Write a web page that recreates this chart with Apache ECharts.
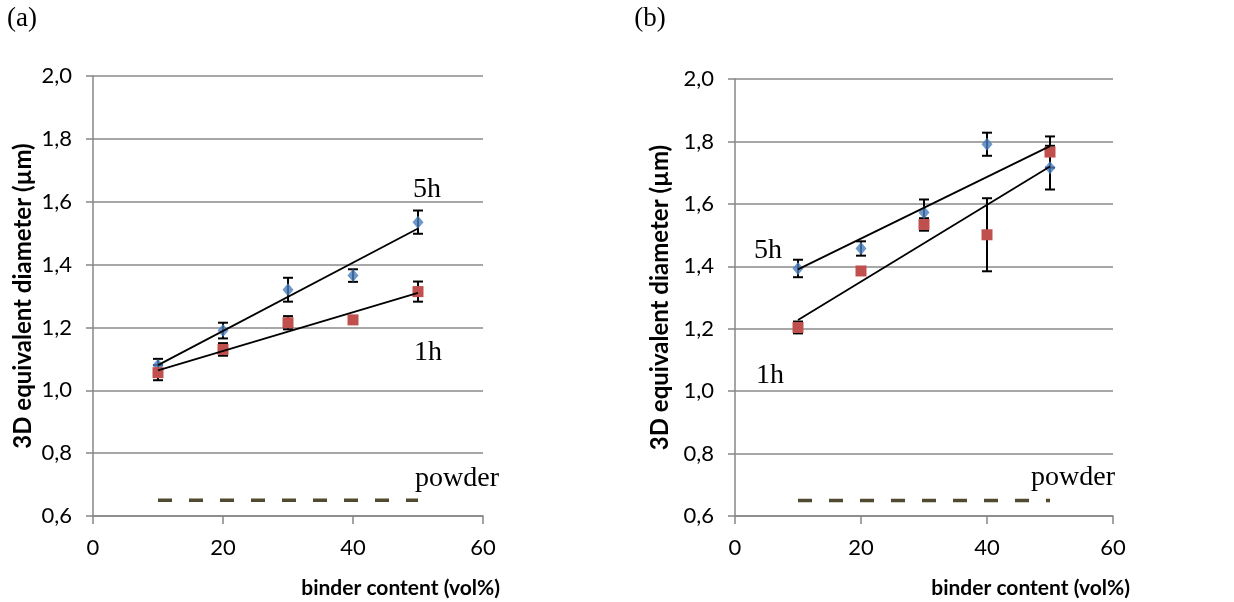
<!DOCTYPE html>
<html>
<head>
<meta charset="utf-8">
<script src="https://cdn.jsdelivr.net/npm/echarts@6/dist/echarts.min.js"></script>
<style>
  html, body { margin: 0; padding: 0; background: #fff; }
  #main { width: 1234px; height: 602px; }
</style>
</head>
<body>
<div id="main"></div>
<script>
// binder content (vol%)
var binder = [10, 20, 30, 40, 50];

// panel (a)
var a5h = [1.08, 1.19, 1.32, 1.365, 1.535];
var a5hErr = [0.02, 0.025, 0.038, 0.02, 0.037];
var a1h = [1.056, 1.13, 1.215, 1.224, 1.314];
var a1hErr = [0.024, 0.02, 0.021, 0.012, 0.032];
var aTrend5h = [1.08, 1.515];   // trend line at x = 10 and 50
var aTrend1h = [1.063, 1.31];

// panel (b)
var b5h = [1.393, 1.457, 1.572, 1.791, 1.716];
var b5hErr = [0.028, 0.023, 0.042, 0.037, 0.07];
var b1h = [1.204, 1.385, 1.534, 1.501, 1.766];
var b1hErr = [0.019, 0.008, 0.02, 0.117, 0.05];
var bTrend5h = [1.39, 1.785];
var bTrend1h = [1.228, 1.72];

var trendX = [10, 50];
var powder = 0.65;

var yTicks = ['0,6', '0,8', '1,0', '1,2', '1,4', '1,6', '1,8', '2,0'];

var chart = echarts.init(document.getElementById('main'));

var labelFont = 'Lato, "Open Sans", sans-serif';
var serif = '"Liberation Serif", "DejaVu Serif", serif';

function pairs(xs, ys) {
    var out = [];
    for (var i = 0; i < xs.length; i++) out.push([xs[i], ys[i]]);
    return out;
}

function errData(ys, errs) {
    var out = [];
    for (var i = 0; i < binder.length; i++) {
        out.push([binder[i], ys[i] - errs[i], ys[i] + errs[i]]);
    }
    return out;
}

function renderErr(params, api) {
    var x = api.value(0);
    var lo = api.coord([x, api.value(1)]);
    var hi = api.coord([x, api.value(2)]);
    var w = 5;
    var st = { stroke: '#000', lineWidth: 2 };
    return {
        type: 'group',
        children: [
            { type: 'line', shape: { x1: hi[0], y1: hi[1], x2: lo[0], y2: lo[1] }, style: st },
            { type: 'line', shape: { x1: hi[0] - w, y1: hi[1], x2: hi[0] + w, y2: hi[1] }, style: st },
            { type: 'line', shape: { x1: lo[0] - w, y1: lo[1], x2: lo[0] + w, y2: lo[1] }, style: st }
        ]
    };
}

function xAxis(idx) {
    return {
        gridIndex: idx,
        type: 'value',
        min: 0,
        max: 60,
        interval: 20,
        name: 'binder content (vol%)',
        nameLocation: 'end',
        nameGap: 17,
        nameTextStyle: {
            fontFamily: labelFont, fontWeight: 'bold', fontSize: 21, color: '#000',
            align: 'right', verticalAlign: 'top', padding: [62, 0, 0, 0]
        },
        axisLine: { lineStyle: { color: '#878787', width: 1.5 } },
        axisTick: { show: true, length: 8, lineStyle: { color: '#878787', width: 1.5 } },
        axisLabel: { fontFamily: labelFont, fontSize: 22, color: '#000', margin: 21 },
        splitLine: { show: false }
    };
}

function yAxis(idx, gap) {
    return {
        gridIndex: idx,
        type: 'value',
        min: 0.6,
        max: 2.0,
        interval: 0.2,
        name: '3D equivalent diameter (µm)',
        nameLocation: 'middle',
        nameRotate: 90,
        nameGap: gap,
        nameTextStyle: { fontFamily: labelFont, fontWeight: 'bold', fontSize: 24, color: '#000' },
        axisLine: { show: true, lineStyle: { color: '#878787', width: 1.5 } },
        axisTick: { show: true, length: 7, lineStyle: { color: '#878787', width: 1.5 } },
        axisLabel: {
            fontFamily: labelFont, fontSize: 22, color: '#000', margin: 21,
            formatter: function (v) {
                var i = Math.round((v - 0.6) / 0.2);
                return yTicks[i];
            }
        },
        splitLine: { show: true, lineStyle: { color: '#8a8a8a', width: 1.6 } }
    };
}

function panelSeries(idx, s5, e5, s1, e1, t5, t1) {
    return [
        {
            type: 'custom', xAxisIndex: idx, yAxisIndex: idx,
            renderItem: renderErr, data: errData(s5, e5), z: 2, silent: true
        },
        {
            type: 'custom', xAxisIndex: idx, yAxisIndex: idx,
            renderItem: renderErr, data: errData(s1, e1), z: 2, silent: true
        },
        {
            name: '5h', type: 'scatter', xAxisIndex: idx, yAxisIndex: idx,
            symbol: 'diamond', symbolSize: [11, 13],
            itemStyle: { color: '#4a7ebb' },
            data: pairs(binder, s5), z: 3
        },
        {
            name: '1h', type: 'scatter', xAxisIndex: idx, yAxisIndex: idx,
            symbol: 'rect', symbolSize: 11,
            itemStyle: { color: '#c0504d', opacity: 1 },
            data: pairs(binder, s1), z: 3
        },
        {
            type: 'line', xAxisIndex: idx, yAxisIndex: idx,
            showSymbol: false, symbol: 'none',
            lineStyle: { color: '#000', width: 1.8 },
            data: pairs(trendX, t5), z: 4
        },
        {
            type: 'line', xAxisIndex: idx, yAxisIndex: idx,
            showSymbol: false, symbol: 'none',
            lineStyle: { color: '#000', width: 1.8 },
            data: pairs(trendX, t1), z: 4
        },
        {
            type: 'line', xAxisIndex: idx, yAxisIndex: idx,
            showSymbol: false, symbol: 'none',
            lineStyle: { color: '#4f4a30', width: 3.5, type: [14, 17] },
            data: pairs(trendX, [powder, powder]), z: 4
        }
    ];
}

function note(text, x, y, size) {
    return {
        type: 'text', x: x, y: y,
        style: {
            text: text, font: size + 'px ' + serif, fill: '#000',
            align: 'center', verticalAlign: 'middle'
        }
    };
}

var option = {
    animation: false,
    backgroundColor: '#fff',
    grid: [
        { left: 93, top: 76, width: 390, height: 440 },
        { left: 735, top: 79, width: 378, height: 437 }
    ],
    xAxis: [xAxis(0), xAxis(1)],
    yAxis: [yAxis(0, 58), yAxis(1, 63)],
    series: panelSeries(0, a5h, a5hErr, a1h, a1hErr, aTrend5h, aTrend1h)
        .concat(panelSeries(1, b5h, b5hErr, b1h, b1hErr, bTrend5h, bTrend1h)),
    graphic: [
        note('(a)', 22, 19, 27),
        note('(b)', 650, 19, 27),
        note('5h', 427, 190, 28),
        note('1h', 428, 353, 28),
        note('powder', 457, 479, 28),
        note('5h', 768, 251, 28),
        note('1h', 770, 376, 28),
        note('powder', 1073, 478, 28)
    ]
};

chart.setOption(option);
</script>
</body>
</html>
